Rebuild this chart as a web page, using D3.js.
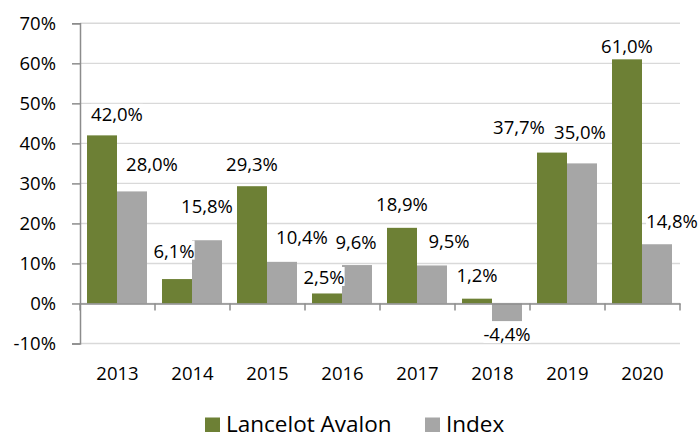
<!DOCTYPE html>
<html>
<head>
<meta charset="utf-8">
<script src="https://cdn.jsdelivr.net/npm/d3@7"></script>
<style>
  html, body { margin: 0; padding: 0; background: #fff; }
  svg { display: block; font-family: "Open Sans", sans-serif; }
</style>
</head>
<body>
<svg id="chart" width="699" height="435"></svg>
<script>
// ---- data ----
const categories = ["2013", "2014", "2015", "2016", "2017", "2018", "2019", "2020"];
const seriesNames = ["Lancelot Avalon", "Index"];
const lancelot = [42.0, 6.1, 29.3, 2.5, 18.9, 1.2, 37.7, 61.0];
const indexVals = [28.0, 15.8, 10.4, 9.6, 9.5, -4.4, 35.0, 14.8];
const yTicks = [-10, 0, 10, 20, 30, 40, 50, 60, 70];

// ---- layout (label nudges in px, as placed in the original) ----
const nudgeLX = [15, -3, 0, -3, 0, 0, -33, 0];
const nudgeLY = [2, -5, 1, 7, 0, 0, -2, 10];
const nudgeIX = [20, 0, 20, -1, 17, 0, -2, 15];
const nudgeIY = [-4, -11, -1, 0, -1, 0, -8, 0];

const colors = ["#6d8035", "#a6a6a6"];
const svg = d3.select("#chart");
const plotL = 80, plotR = 680, plotT = 23.3, plotB = 343.5;

const y = d3.scaleLinear().domain([-10, 70]).range([plotB, plotT]);
const x = d3.scaleBand().domain(categories).range([plotL, plotR]).padding(0);
const xs = d3.scaleBand().domain(seriesNames).range([7, 67]).padding(0);

const fmt = v => v.toFixed(1).replace(".", ",") + "%";

// gridlines
svg.append("g").selectAll("line").data(yTicks).join("line")
  .attr("x1", plotL).attr("x2", plotR)
  .attr("y1", d => y(d)).attr("y2", d => y(d))
  .attr("stroke", "#d9d9d9").attr("stroke-width", 1.4);

// y axis
const yAxis = d3.axisLeft(y).tickValues(yTicks).tickSize(8).tickPadding(16)
  .tickFormat(d => d + "%");
const gy = svg.append("g").attr("transform", `translate(${plotL},0)`).call(yAxis);
gy.select(".domain").attr("stroke", "#8c8c8c").attr("stroke-width", 1.5);
gy.selectAll(".tick line").attr("stroke", "#8c8c8c").attr("stroke-width", 1.5);
gy.selectAll(".tick text").attr("font-size", 18.5).attr("fill", "#000")
  .attr("font-family", "Open Sans");

// bars
const rows = categories.map((c, i) => ({ c, i, vals: [lancelot[i], indexVals[i]] }));
const groups = svg.append("g").selectAll("g").data(rows).join("g")
  .attr("transform", d => `translate(${x(d.c)},0)`);
groups.selectAll("rect").data(d => d.vals.map((v, k) => ({ v, k, s: seriesNames[k] })))
  .join("rect")
  .attr("x", d => xs(d.s)).attr("width", xs.bandwidth())
  .attr("y", d => y(Math.max(0, d.v)))
  .attr("height", d => Math.abs(y(d.v) - y(0)))
  .attr("fill", d => colors[d.k]);

// x axis (at zero)
const xAxis = d3.axisBottom(x).tickSize(0).tickFormat(() => "");
const gx = svg.append("g").attr("transform", `translate(0,${y(0)})`).call(xAxis);
gx.select(".domain").attr("stroke", "#8c8c8c").attr("stroke-width", 1.5);
gx.selectAll(".tick").remove();
// tick marks at category boundaries
const bounds = categories.map(c => x(c)).concat([plotR]);
svg.append("g").selectAll("line").data(bounds).join("line")
  .attr("x1", d => d).attr("x2", d => d)
  .attr("y1", y(0)).attr("y2", y(0) + 7)
  .attr("stroke", "#8c8c8c").attr("stroke-width", 1.5);

// category labels
svg.append("g").selectAll("text").data(categories).join("text")
  .attr("x", d => x(d) + x.bandwidth() / 2)
  .attr("y", 379.5)
  .attr("text-anchor", "middle")
  .attr("font-size", 18.5).attr("fill", "#000")
  .text(d => d);

// data labels
const labels = [];
categories.forEach((c, i) => {
  [lancelot[i], indexVals[i]].forEach((v, k) => {
    const cx = x(c) + xs(seriesNames[k]) + xs.bandwidth() / 2
      + (k === 0 ? nudgeLX[i] : nudgeIX[i]);
    const cy = (v >= 0 ? y(v) - 23 : y(v) + 13.4) + (k === 0 ? nudgeLY[i] : nudgeIY[i]);
    labels.push({ cx, cy, t: fmt(v) });
  });
});
const lg = svg.append("g").selectAll("g").data(labels).join("g");
const lt = lg.append("text")
  .attr("x", d => d.cx).attr("y", d => d.cy + 6.5)
  .attr("text-anchor", "middle")
  .attr("font-size", 18.5).attr("fill", "#000")
  .text(d => d.t);
lt.each(function () {
  const b = this.getBBox();
  d3.select(this.parentNode).insert("rect", "text")
    .attr("x", b.x).attr("y", b.y + 3).attr("width", b.width).attr("height", b.height - 6)
    .attr("fill", "#fff");
});

// legend
const legend = svg.append("g");
const legItems = [{ name: seriesNames[0], x: 205, color: colors[0] }, { name: seriesNames[1], x: 425, color: colors[1] }];
legItems.forEach(it => {
  legend.append("rect").attr("x", it.x).attr("y", 417.5).attr("width", 15).attr("height", 14.5)
    .attr("fill", it.color);
  legend.append("text").attr("x", it.x + 21).attr("y", 431.5)
    .attr("font-size", 22.5).attr("fill", "#000").text(it.name);
});
</script>
</body>
</html>
